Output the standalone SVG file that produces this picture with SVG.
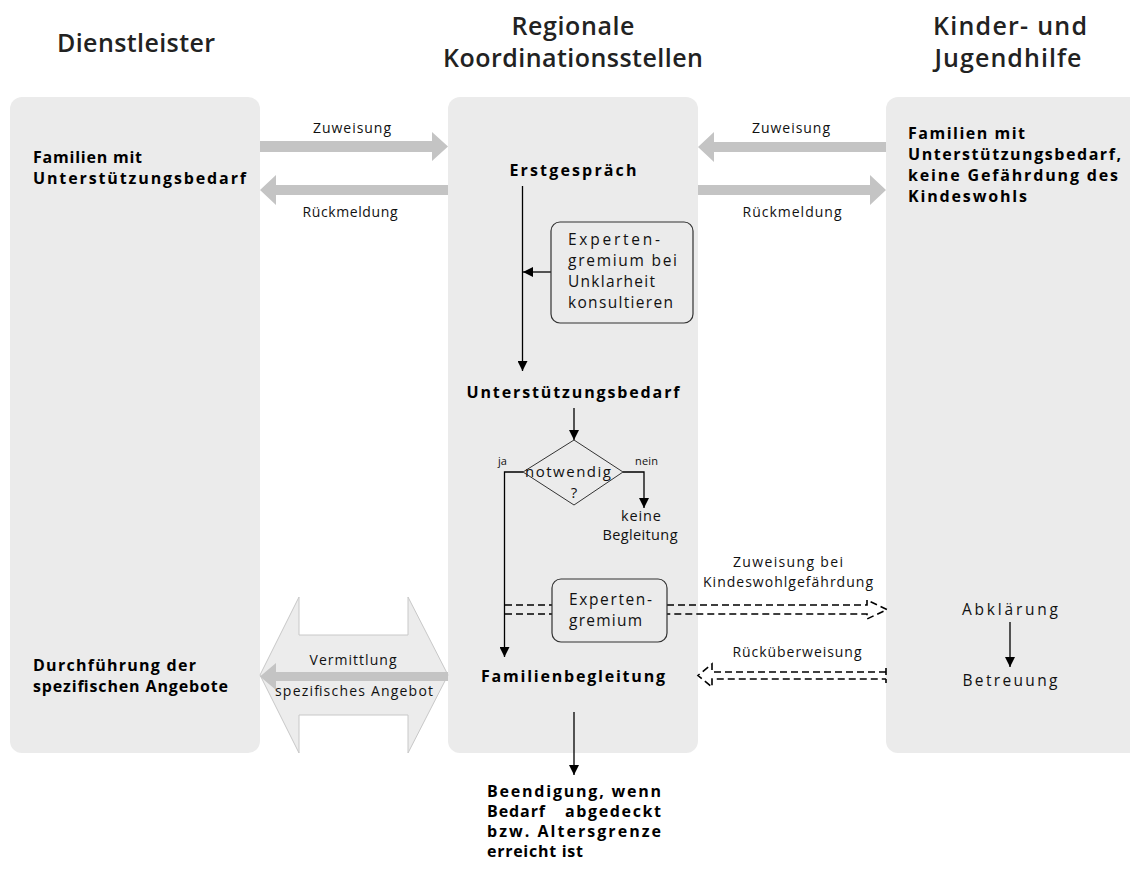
<svg xmlns="http://www.w3.org/2000/svg" width="1130" height="870" viewBox="0 0 1130 870">
<defs>
<style>
.panel{fill:#ebebeb;stroke:none}
.hdr{font-family:"Open Sans","Liberation Sans",sans-serif;font-size:25px;fill:#222;font-weight:600}
.b{font-family:"Open Sans","Liberation Sans",sans-serif;font-size:16px;font-weight:700;fill:#000}
.t{font-family:"Open Sans","Liberation Sans",sans-serif;font-size:15.5px;fill:#111}
.s{font-family:"Open Sans","Liberation Sans",sans-serif;font-size:14px;fill:#111}
.xs{font-family:"Open Sans","Liberation Sans",sans-serif;font-size:11px;fill:#111}
.garrow{fill:#c4c4c4;stroke:none}
.ln{fill:none;stroke:#000;stroke-width:1.3}
.box{fill:#ebebeb;stroke:#333;stroke-width:1.2}
.dash{fill:none;stroke:#000;stroke-width:1.6;stroke-dasharray:7 4}
</style>
<marker id="ah" viewBox="0 0 10 10" refX="10" refY="5" markerWidth="10" markerHeight="10" markerUnits="userSpaceOnUse" orient="auto">
<path d="M0,0 L10,5 L0,10 z" fill="#000"/>
</marker>
</defs>
<rect width="1130" height="870" fill="#fff"/>

<g id="panels">
<rect class="panel" x="10" y="97" width="250" height="656" rx="12"/>
<rect class="panel" x="448" y="97" width="250" height="656" rx="12"/>
<rect class="panel" x="886" y="97" width="270" height="656" rx="12"/>
</g>

<g id="headers">
<text class="hdr" x="136" y="52" text-anchor="middle" textLength="158" lengthAdjust="spacing">Dienstleister</text>
<text class="hdr" x="573" y="35" text-anchor="middle" textLength="123" lengthAdjust="spacing">Regionale</text>
<text class="hdr" x="573" y="67" text-anchor="middle" textLength="260" lengthAdjust="spacing">Koordinationsstellen</text>
<text class="hdr" x="1010" y="35" text-anchor="middle" textLength="154" lengthAdjust="spacing">Kinder- und</text>
<text class="hdr" x="1008" y="67" text-anchor="middle" textLength="147" lengthAdjust="spacing">Jugendhilfe</text>
</g>

<g id="connectors">
<polygon class="garrow" points="260,141 432,141 432,132 448,146.5 432,161 432,152 260,152"/>
<polygon class="garrow" points="448,185 276,185 276,175 260,190 276,205 276,195 448,195"/>
<polygon class="garrow" points="886,142 714,142 714,132 698,147 714,162 714,152 886,152"/>
<polygon class="garrow" points="698,185 870,185 870,175 886,190 870,205 870,195 698,195"/>
<polygon points="260,675 299,597 299,635 408,635 408,597 448,675 408,753 408,715 299,715 299,753" fill="#ececec" stroke="#c8c8c8" stroke-width="1"/>
<polygon class="garrow" points="448,672 276,672 276,663 260,676.5 276,690 276,681 448,681"/>
<line class="ln" x1="522.5" y1="186" x2="522.5" y2="371" marker-end="url(#ah)"/>
<line class="ln" x1="551" y1="272" x2="523" y2="272" marker-end="url(#ah)"/>
<line class="ln" x1="574" y1="408" x2="574" y2="440" marker-end="url(#ah)"/>
<polyline class="ln" points="523,472 504.5,472 504.5,657" marker-end="url(#ah)"/>
<polyline class="ln" points="623,472 644,472 644,508" marker-end="url(#ah)"/>
<line class="ln" x1="574" y1="712" x2="574" y2="775" marker-end="url(#ah)"/>
<line class="ln" x1="1010" y1="622" x2="1010" y2="667" marker-end="url(#ah)"/>
<path class="dash" d="M505,605 H552 M505,614 H552"/>
<path class="dash" d="M667,605 H867 V600 L887,609.5 L867,619 V614 H667"/>
<path class="dash" d="M886,668 V683 M886,672 H712 V664 L698,675.5 L712,687 V679 H886"/>
</g>

<g id="labels">
<text class="s" x="352" y="133" text-anchor="middle" textLength="78" lengthAdjust="spacing">Zuweisung</text>
<text class="s" x="350" y="217" text-anchor="middle" textLength="95" lengthAdjust="spacing">Rückmeldung</text>
<text class="s" x="791" y="133" text-anchor="middle" textLength="78" lengthAdjust="spacing">Zuweisung</text>
<text class="s" x="792" y="217" text-anchor="middle" textLength="99" lengthAdjust="spacing">Rückmeldung</text>
<text class="s" x="788" y="567" text-anchor="middle" textLength="110" lengthAdjust="spacing">Zuweisung bei</text>
<text class="s" x="788" y="587" text-anchor="middle" textLength="170" lengthAdjust="spacing">Kindeswohlgefährdung</text>
<text class="s" x="797" y="657" text-anchor="middle" textLength="129" lengthAdjust="spacing">Rücküberweisung</text>
<text class="s" x="353" y="665" text-anchor="middle" textLength="87" lengthAdjust="spacing">Vermittlung</text>
<text class="s" x="354" y="696" text-anchor="middle" textLength="158" lengthAdjust="spacing">spezifisches Angebot</text>
<text class="xs" x="498" y="465">ja</text>
<text class="xs" x="635" y="465" textLength="23" lengthAdjust="spacing">nein</text>
</g>

<g id="node-dl-familien">
<text class="b" x="33" y="163" textLength="109" lengthAdjust="spacing">Familien mit</text>
<text class="b" x="33" y="184" textLength="213" lengthAdjust="spacing">Unterstützungsbedarf</text>
</g>
<g id="node-dl-durchfuehrung">
<text class="b" x="33" y="671" textLength="163" lengthAdjust="spacing">Durchführung der</text>
<text class="b" x="33" y="692" textLength="195" lengthAdjust="spacing">spezifischen Angebote</text>
</g>

<g id="node-erstgespraech">
<text class="b" x="573" y="176" text-anchor="middle" textLength="127" lengthAdjust="spacing">Erstgespräch</text>
</g>
<g id="node-expertengremium-1">
<rect class="box" x="551" y="222" width="142" height="101" rx="9"/>
<text class="t" x="568" y="245" textLength="92" lengthAdjust="spacing">Experten-</text>
<text class="t" x="568" y="266" textLength="109" lengthAdjust="spacing">gremium bei</text>
<text class="t" x="568" y="287" textLength="87" lengthAdjust="spacing">Unklarheit</text>
<text class="t" x="568" y="308" textLength="105" lengthAdjust="spacing">konsultieren</text>
</g>
<g id="node-unterstuetzungsbedarf">
<text class="b" x="573" y="398" text-anchor="middle" textLength="213" lengthAdjust="spacing">Unterstützungsbedarf</text>
</g>
<g id="node-notwendig">
<polygon points="574,440 623,472 574,505 523,472" fill="#ebebeb" stroke="#333" stroke-width="1"/>
<text class="t" x="568" y="477" text-anchor="middle" textLength="86" lengthAdjust="spacing" style="font-size:15px">notwendig</text>
<text class="t" x="574" y="498" text-anchor="middle" style="font-size:15px">?</text>
</g>
<g id="node-keine-begleitung">
<text class="t" x="641" y="521" text-anchor="middle" textLength="40" lengthAdjust="spacing" style="font-size:14.5px">keine</text>
<text class="t" x="640" y="540" text-anchor="middle" textLength="75" lengthAdjust="spacing" style="font-size:14.5px">Begleitung</text>
</g>
<g id="node-expertengremium-2">
<rect class="box" x="552" y="579" width="115" height="63" rx="9"/>
<text class="t" x="569" y="605" textLength="83" lengthAdjust="spacing">Experten-</text>
<text class="t" x="569" y="626" textLength="73" lengthAdjust="spacing">gremium</text>
</g>
<g id="node-familienbegleitung">
<text class="b" x="573" y="682" text-anchor="middle" textLength="184" lengthAdjust="spacing">Familienbegleitung</text>
</g>
<g id="node-beendigung">
<text class="b" x="487" y="797" textLength="174" lengthAdjust="spacing">Beendigung, wenn</text>
<text class="b" x="487" y="817" textLength="58" lengthAdjust="spacing">Bedarf</text>
<text class="b" x="661" y="817" text-anchor="end" textLength="96" lengthAdjust="spacing">abgedeckt</text>
<text class="b" x="487" y="837" textLength="174" lengthAdjust="spacing">bzw. Altersgrenze</text>
<text class="b" x="487" y="857" textLength="96" lengthAdjust="spacing">erreicht ist</text>
</g>

<g id="node-kjh-familien">
<text class="b" x="908" y="139" textLength="117" lengthAdjust="spacing">Familien mit</text>
<text class="b" x="908" y="160" textLength="213" lengthAdjust="spacing">Unterstützungsbedarf,</text>
<text class="b" x="908" y="181" textLength="210" lengthAdjust="spacing">keine Gefährdung des</text>
<text class="b" x="908" y="202" textLength="119" lengthAdjust="spacing">Kindeswohls</text>
</g>
<g id="node-abklaerung">
<text class="t" x="1010" y="615" text-anchor="middle" textLength="96" lengthAdjust="spacing">Abklärung</text>
</g>
<g id="node-betreuung">
<text class="t" x="1010" y="686" text-anchor="middle" textLength="95" lengthAdjust="spacing">Betreuung</text>
</g>
</svg>
